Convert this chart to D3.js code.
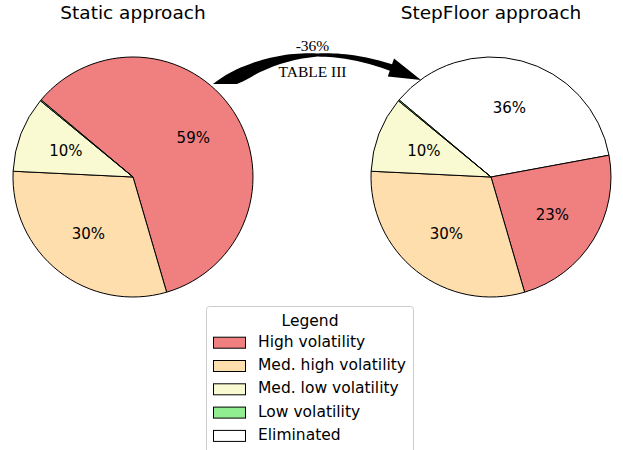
<!DOCTYPE html>
<html>
<head>
<meta charset="utf-8">
<script src="https://cdn.jsdelivr.net/npm/d3@7"></script>
<style>
  body { margin: 0; background: #fff; }
  svg { display: block; }
</style>
</head>
<body>
<svg id="chart" width="623" height="450"></svg>
<script>
// Data (percent of total)
var categories = ["High volatility", "Med. high volatility", "Med. low volatility", "Low volatility", "Eliminated"];
var colors = ["#f08080", "#ffdead", "#fafad2", "#90ee90", "#ffffff"];
var staticValues = [59.4, 30.3, 10.2, 0.15, 0];
var stepFloorValues = [23.4, 30.3, 10.2, 0.15, 36.0];
var pieTitles = ["Static approach", "StepFloor approach"];
var arrowLabel = "-36%";
var arrowNote = "TABLE III";

// slices go clockwise starting with Eliminated
var sliceOrder = [4, 0, 1, 2, 3];

var svg = d3.select("#chart");
var radius = 120;

var centerX = d3.scalePoint().domain(pieTitles).range([133, 491]);
var centerY = 177;

var startA = -50 * Math.PI / 180;
var pie = d3.pie()
  .sort(null)
  .value(function(d) { return d.value; })
  .startAngle(startA)
  .endAngle(startA + 2 * Math.PI);

var arc = d3.arc().innerRadius(0).outerRadius(radius);
var labelArc = d3.arc().innerRadius(radius * 0.6).outerRadius(radius * 0.6);
var pctFormat = function(p) { return Math.round(p) + "%"; };

[staticValues, stepFloorValues].forEach(function(vals, k) {
  var total = d3.sum(vals);
  var rows = sliceOrder.map(function(i) {
    return { name: categories[i], color: colors[i], value: vals[i] };
  });
  var g = svg.append("g")
    .attr("transform", "translate(" + centerX(pieTitles[k]) + "," + centerY + ")");

  var slices = pie(rows).filter(function(d) { return d.data.value > 0; });

  g.selectAll("path")
    .data(slices)
    .enter().append("path")
      .attr("d", arc)
      .attr("fill", function(d) { return d.data.color; })
      .attr("stroke", "#000")
      .attr("stroke-width", 1)
      .attr("stroke-linejoin", "round");

  g.selectAll("text.pct")
    .data(slices.filter(function(d) { return d.data.value / total > 0.05; }))
    .enter().append("text")
      .attr("class", "pct")
      .attr("transform", function(d) { return "translate(" + labelArc.centroid(d) + ")"; })
      .attr("text-anchor", "middle")
      .attr("dy", "0.36em")
      .attr("font-family", "DejaVu Sans, sans-serif")
      .attr("font-size", 15)
      .attr("fill", "#000")
      .text(function(d) { return pctFormat(d.data.value / total * 100); });

  svg.append("text")
    .attr("x", centerX(pieTitles[k]))
    .attr("y", 19)
    .attr("text-anchor", "middle")
    .attr("font-family", "DejaVu Sans, sans-serif")
    .attr("font-size", 18.5)
    .attr("fill", "#000")
    .text(pieTitles[k]);
});

// Curved arrow between the pies (tapered band along a quadratic curve)
var p0 = [225, 84], p1 = [312, 28], p2 = [421, 80];
function bez(t) {
  var a = (1 - t) * (1 - t), b = 2 * (1 - t) * t, c = t * t;
  return [a * p0[0] + b * p1[0] + c * p2[0], a * p0[1] + b * p1[1] + c * p2[1]];
}
function tangent(t) {
  var dx = 2 * (1 - t) * (p1[0] - p0[0]) + 2 * t * (p2[0] - p1[0]);
  var dy = 2 * (1 - t) * (p1[1] - p0[1]) + 2 * t * (p2[1] - p1[1]);
  var l = Math.sqrt(dx * dx + dy * dy);
  return [dx / l, dy / l];
}
var halfW = d3.scaleLinear().domain([0, 0.15, 0.5, 0.86]).range([12, 6, 1.6, 3.4]);
var tHead = 0.86;
var upper = [], lower = [];
d3.range(0, tHead + 0.0001, 0.02).forEach(function(t) {
  var p = bez(t), tg = tangent(t), n = [tg[1], -tg[0]], w = halfW(t);
  // flat tail: offset starts horizontal and turns to the normal
  var s = Math.min(1, t / 0.2);
  var ox = -1 * (1 - s) + n[0] * s, oy = n[1] * s;
  var ol = Math.sqrt(ox * ox + oy * oy);
  ox /= ol; oy /= ol;
  upper.push([p[0] + ox * w, p[1] + oy * w]);
  lower.push([p[0] - ox * w, p[1] - oy * w]);
});
var hb = bez(tHead), ht = tangent(tHead), hn = [ht[1], -ht[0]], hw = 9.5;
var headPts = [
  [hb[0] + hn[0] * hw, hb[1] + hn[1] * hw],
  p2,
  [hb[0] - hn[0] * hw, hb[1] - hn[1] * hw]
];
var outline = upper.concat(headPts).concat(lower.reverse());
svg.append("path")
  .attr("d", d3.line()(outline) + "Z")
  .attr("fill", "#000");

svg.append("text")
  .attr("x", 312.5).attr("y", 50.5)
  .attr("text-anchor", "middle")
  .attr("font-family", "Liberation Serif, serif")
  .attr("font-size", 15.5)
  .text(arrowLabel);
svg.append("text")
  .attr("x", 312.5).attr("y", 76.5)
  .attr("text-anchor", "middle")
  .attr("font-family", "Liberation Serif, serif")
  .attr("font-size", 15.5)
  .text(arrowNote);

// Legend
var legend = svg.append("g").attr("transform", "translate(206.5,306.5)");
legend.append("rect")
  .attr("width", 207).attr("height", 170)
  .attr("rx", 3)
  .attr("fill", "#fff")
  .attr("stroke", "#cccccc")
  .attr("stroke-width", 1);
legend.append("text")
  .attr("x", 103.5).attr("y", 19.5)
  .attr("text-anchor", "middle")
  .attr("font-family", "DejaVu Sans, sans-serif")
  .attr("font-size", 15.5)
  .text("Legend");

var rowY = d3.scaleLinear().domain([0, 1]).range([40.2, 63.5]);
var item = legend.selectAll("g.item")
  .data(categories)
  .enter().append("g")
    .attr("class", "item")
    .attr("transform", function(d, i) { return "translate(0," + rowY(i) + ")"; });
item.append("rect")
  .attr("x", 7).attr("y", -9.5)
  .attr("width", 32).attr("height", 11)
  .attr("fill", function(d, i) { return colors[i]; })
  .attr("stroke", "#000")
  .attr("stroke-width", 1);
item.append("text")
  .attr("x", 51.5).attr("y", 0)
  .attr("font-family", "DejaVu Sans, sans-serif")
  .attr("font-size", 15.5)
  .text(function(d) { return d; });
</script>
</body>
</html>
